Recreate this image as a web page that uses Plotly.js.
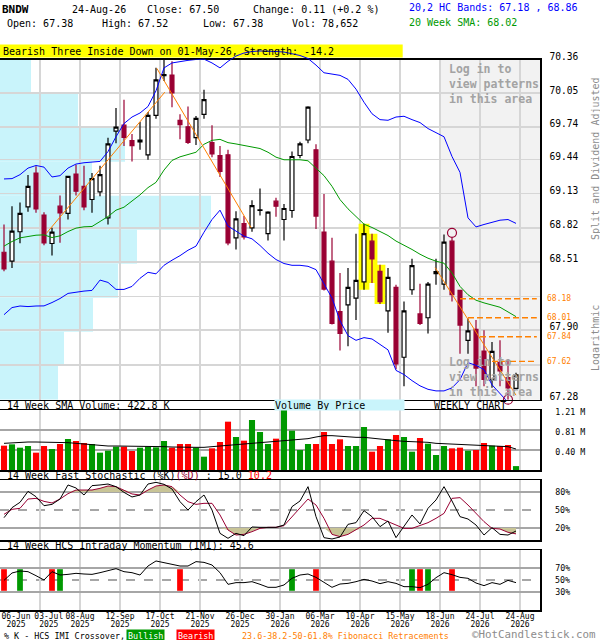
<!DOCTYPE html>
<html><head><meta charset="utf-8">
<script src="https://cdn.plot.ly/plotly-3.0.1.min.js"></script>
<style>html,body{margin:0;padding:0;background:#fff;}#chart{width:600px;height:640px;}</style>
</head><body><div id="chart"></div>
<script>
// ---------- data (weekly, index 0 = 06-Jun-2025 ... 64 = 24-Aug-2026) ----------
const openP = [68.599,68.518,68.784,69.01,69.318,68.935,68.678,69.016,68.95,69.309,69.197,69.077,69.146,68.91,69.702,69.756,69.614,69.602,69.484,69.847,70.212,70.218,69.801,69.741,69.641,69.856,69.596,69.478,69.484,68.729,68.859,68.82,68.977,68.768,69.062,68.895,68.977,69.478,69.62,69.53,68.781,68.518,68.065,68.125,68.186,68.331,68.699,68.427,68.071,68.282,67.657,68.261,68.044,68.01,68.406,68.312,68.699,68.255,67.808,67.905,67.712,67.455,67.612,67.476,67.38];
const highP = [68.85,69.016,69.05,69.30,69.379,68.962,68.82,69.113,69.29,69.394,69.385,69.318,69.385,69.641,69.913,69.989,69.675,69.786,69.877,70.285,70.36,70.345,69.856,69.928,69.84,70.082,69.756,69.566,69.53,68.971,68.926,69.071,69.176,68.971,69.092,69.037,69.514,69.605,69.931,69.581,69.128,68.729,68.412,68.457,68.766,68.856,68.766,68.487,68.457,68.306,68.155,68.541,68.315,68.33,68.541,68.759,68.729,68.26,68.004,67.989,67.899,67.793,67.808,67.642,67.52];
const lowP = [68.427,68.457,68.68,68.965,68.956,68.663,68.569,68.684,68.895,69.113,68.98,68.956,69.107,68.85,69.59,69.566,69.424,69.53,69.439,69.816,70.164,69.922,69.626,69.584,69.575,69.816,69.463,69.282,68.663,68.624,68.714,68.784,68.932,68.705,68.92,68.705,68.91,69.454,69.59,68.81,68.255,67.95,67.718,67.754,67.989,68.261,68.321,68.134,67.875,67.551,67.40,68.216,67.944,67.869,68.306,68.261,68.155,67.688,67.688,67.40,67.40,67.385,67.40,67.28,67.38];
const closeP = [68.448,68.79,68.95,69.197,68.992,68.684,68.78,68.956,69.288,69.152,69.01,69.267,69.303,69.584,69.738,69.644,69.569,69.62,69.847,70.173,70.221,70.052,69.762,69.599,69.819,69.992,69.493,69.333,68.684,68.901,68.738,69.022,68.983,68.962,69.016,68.995,69.469,69.584,69.922,68.926,68.267,67.959,67.869,68.282,68.346,68.768,68.539,68.155,68.373,67.597,68.071,68.478,67.959,68.312,68.424,68.69,68.216,67.944,67.893,67.561,67.461,67.709,67.536,67.385,67.50];
const upperBand = [69.264,69.267,69.303,69.363,69.387,69.372,69.282,69.294,69.363,69.4,69.412,69.415,69.424,69.514,69.65,69.771,69.831,69.868,69.928,70.073,70.284,70.33,70.345,70.354,70.362,70.365,70.33,70.284,70.345,70.394,70.422,70.436,70.441,70.441,70.436,70.431,70.417,70.399,70.371,70.31,70.239,70.224,70.215,70.178,70.088,69.967,69.861,69.807,69.801,69.831,69.838,69.807,69.78,69.725,69.686,69.65,69.469,69.324,68.91,68.828,68.85,68.871,68.889,68.895,68.86];
const lowerBand = [68.037,68.101,68.115,68.11,68.115,68.116,68.146,68.182,68.228,68.241,68.249,68.255,68.348,68.327,68.264,68.264,68.291,68.364,68.418,68.404,68.481,68.527,68.568,68.617,68.654,68.78,68.895,68.98,68.835,68.79,68.744,68.72,68.66,68.59,68.533,68.497,68.481,68.481,68.472,68.442,68.315,68.186,67.983,67.85,67.808,67.832,67.82,67.772,67.723,67.54,67.503,67.449,67.403,67.372,67.358,67.358,67.385,67.458,67.609,67.585,67.548,67.412,67.331,67.258,67.18];
const sma20 = [68.654,68.696,68.729,68.744,68.753,68.756,68.732,68.747,68.786,68.817,68.829,68.832,68.88,68.922,68.98,69.007,69.063,69.119,69.185,69.233,69.345,69.433,69.466,69.49,69.508,69.581,69.617,69.626,69.596,69.584,69.572,69.56,69.542,69.508,69.463,69.439,69.439,69.439,69.43,69.363,69.294,69.197,69.076,68.992,68.919,68.853,68.823,68.784,68.75,68.7,68.663,68.624,68.581,68.545,68.518,68.5,68.412,68.291,68.216,68.167,68.143,68.125,68.104,68.062,68.02];
const volume = [490700,517600,450400,484000,349500,484000,423500,524300,625100,584800,544500,524300,349500,389900,470500,470500,383200,450400,470500,457100,584800,450400,524300,524300,450400,268900,436900,564600,974700,665500,591500,1008300,766300,524300,631900,1210000,793200,403300,524300,524300,766300,524300,618400,484000,484000,867100,369700,484000,618400,705800,665500,369700,645300,531000,302500,484000,436900,450400,389900,403300,544500,490700,484000,504200,78652];
const volSma = [537800,551200,564600,564600,564600,564600,557900,551200,551200,537800,524300,510900,490700,484000,484000,484000,477300,470500,470500,470500,470500,463800,457100,457100,457100,457100,470500,484000,510900,517600,524300,551200,564600,578100,584800,591500,605000,618400,631900,665500,692400,692400,678900,665500,658800,658800,638600,618400,605000,591500,578100,571400,571400,557900,537800,531000,524300,517600,510900,497400,490700,490700,484000,470500,422800];
const stochK = [37.2,53.9,62.8,81.1,72.2,57.2,59.4,68.3,91.7,86.7,75,90.6,91.7,93.3,88.9,79.4,71.7,75,93.3,96.1,92.8,85,63.9,50,63.9,75,50,11.1,2.8,11.1,7.2,21.7,21.1,21.1,21.1,25,55.6,65,88.9,38.9,3.9,1.7,5,26.1,28.9,48.9,38.9,22.2,31.7,3.9,22.2,41.7,26.7,52.8,66.7,88.9,65,38.9,35,25,8.3,20.6,9.4,8.3,15.0];
const stochD = [42.8,51.1,52.8,68.3,69.4,64.4,61.7,68.3,77.2,83.3,83.3,83.3,86.1,90,88.9,83.3,76.7,75,83.3,90,91.7,88.9,75,63.9,59.4,61.1,61.1,41.7,16.7,8.3,9.4,13.9,19.4,21.1,21.1,23.9,38.9,52.8,68.3,58.3,36.1,9.4,5.6,9.4,16.7,25,36.1,36.1,30.6,25,19.4,19.4,23.9,28.9,36.1,44.4,69.4,70.6,58.3,44.4,30.6,19.4,18.3,12.8,10.2];
const imi = [49.4,61.7,65,63.9,57.2,50,63.9,58.3,59.4,61.1,60,59.4,62.2,66.1,68.9,63.9,62.2,58.3,73.3,81.7,79.4,76.1,73.3,73.3,80.6,79.4,75,62.2,42.8,45.6,45.6,47.2,42.8,37.8,37.8,41.7,52.8,58.3,60,54.4,46.1,37.8,43.3,44.4,47.2,51.1,48.3,43.9,47.2,44.4,38.9,38.9,37.2,42.8,53.9,62.2,58.9,54.4,52.8,45,40.6,45.6,42.8,49.4,45.6];
const imiBullish = [2,7,36,51,53];
const imiBearish = [0,6,22,39,52,56];
const vbpVolume = [58,64,93,118,137,211,92,125,78,31]; // price bands, lowest first
const priceTicks = [67.28,67.59,67.90,68.20,68.51,68.82,69.13,69.44,69.74,70.05,70.36];
const priceTickText = ['67.28','','67.90','','68.51','68.82','69.13','69.44','69.74','70.05','70.36'];
const fibLevels = [68.18,68.01,67.84,67.62];
const fibStartWeek = [57,58,59.5,61];
const patternWeeks = [45,46,47];
const patternTopWeek = 56, patternBottomWeek = 63;
const trendStartWeek = [5.3,19.1,53.9], trendStartPrice = [68.77,70.28,68.46];
const trendEndWeek = [20.1,30.9,64], trendEndPrice = [70.06,68.82,67.32];
const labelWeeks = [0,4,9,14,19,24,29,34,39,44,49,54,59,64];
const labelDates = ['06-Jun','03-Jul','08-Aug','12-Sep','17-Oct','21-Nov','26-Dec','30-Jan','06-Mar','10-Apr','15-May','18-Jun','24-Jul','24-Aug'];
const labelYears = ['2025','2025','2025','2025','2025','2025','2025','2026','2026','2026','2026','2026','2026','2026'];

// ---------- build ----------
const MONO = 'DejaVu Sans Mono';
const GRID = '#d6d6d6', DARKGRID = '#a6a6a6', CRIM = '#990033', ORANGE = '#ff8000';
const weeks = closeP.map((_, i) => i);
const gridWeeks = weeks.filter(i => i % 5 === 4).map(i => i + 0.5);
const XR = [-0.5, 67];
const py = y => 1 - y / 640, px = x => x / 600;
const L10 = Math.log10;
const topExt = 70.36 * Math.exp(0.04476 / 340 * 15.7);
const labelPos = labelWeeks.map((w, k) => k === 0 ? w + 1.5 : (k === 1 ? w + 1.6 : w + 0.5));

const traces = [];
traces.push({type:'scatter', mode:'markers', x:[0], y:[0], marker:{opacity:0}, xaxis:'x', yaxis:'y', hoverinfo:'skip'});
// pattern highlight
traces.push({type:'bar', x:patternWeeks, base:patternWeeks.map(i => lowP[i]), y:patternWeeks.map(i => highP[i] - lowP[i]),
  width:1.35, marker:{color:'#ffff00', line:{width:0}}, xaxis:'x2', yaxis:'y2', hoverinfo:'skip'});
traces.push({type:'candlestick', x:weeks, open:openP, high:highP, low:lowP, close:closeP, xaxis:'x2', yaxis:'y2',
  increasing:{line:{color:'#000', width:1.2}, fillcolor:'#ffffff'},
  decreasing:{line:{color:CRIM, width:1.2}, fillcolor:CRIM}, whiskerwidth:0, hoverinfo:'none'});
const line = (y, color, w, ax, ay, extra) => Object.assign({type:'scatter', mode:'lines', x:weeks, y:y,
  line:{color:color, width:w}, xaxis:ax, yaxis:ay, hoverinfo:'skip'}, extra || {});
traces.push(line(sma20, '#009900', 1, 'x2', 'y2'));
traces.push(line(upperBand, '#0000ff', 1, 'x2', 'y2'));
traces.push(line(lowerBand, '#0000ff', 1, 'x2', 'y2'));
trendStartWeek.forEach((w, k) => traces.push({type:'scatter', mode:'lines', x:[w, trendEndWeek[k]], y:[trendStartPrice[k], trendEndPrice[k]],
  line:{color:ORANGE, width:1}, xaxis:'x2', yaxis:'y2', hoverinfo:'skip'}));
fibLevels.forEach((lv, k) => traces.push({type:'scatter', mode:'lines', x:[fibStartWeek[k], 66.6], y:[lv, lv],
  line:{color:ORANGE, width:1.3, dash:'6px,3px'}, xaxis:'x2', yaxis:'y2', hoverinfo:'skip'}));
traces.push({type:'scatter', mode:'markers', x:[patternTopWeek, patternBottomWeek],
  y:[highP[patternTopWeek] * 1.00066, lowP[patternBottomWeek]], cliponaxis:false,
  marker:{symbol:'circle-open', size:9, color:CRIM, line:{width:1.2, color:CRIM}}, xaxis:'x2', yaxis:'y2', hoverinfo:'skip'});
// band part above the panel top
traces.push(line(upperBand, '#0000ff', 1, 'x3', 'y3'));
// volume
traces.push({type:'bar', x:weeks, y:volume, width:0.76, xaxis:'x4', yaxis:'y4', hoverinfo:'skip',
  marker:{color:weeks.map(i => closeP[i] >= openP[i] ? '#009900' : '#ff0000'), line:{width:0}}});
traces.push(line(volSma, '#000', 1, 'x4', 'y4'));
// stochastic
traces.push(line(weeks.map(() => 80), 'rgba(0,0,0,0)', 0, 'x5', 'y5'));
traces.push(line(stochD.map(v => Math.max(v, 80)), 'rgba(0,0,0,0)', 0, 'x5', 'y5', {fill:'tonexty', fillcolor:'rgb(200,196,150)'}));
traces.push(line(weeks.map(() => 20), 'rgba(0,0,0,0)', 0, 'x5', 'y5'));
traces.push(line(stochD.map(v => Math.min(v, 20)), 'rgba(0,0,0,0)', 0, 'x5', 'y5', {fill:'tonexty', fillcolor:'rgb(200,196,150)'}));
traces.push(line(stochD, CRIM, 1, 'x5', 'y5'));
traces.push(line(stochK, '#000', 1, 'x5', 'y5'));
// IMI
traces.push({type:'bar', x:imiBullish, base:imiBullish.map(() => 32), y:imiBullish.map(() => 36), width:0.72,
  marker:{color:'#009900', line:{width:0}}, xaxis:'x6', yaxis:'y6', hoverinfo:'skip'});
traces.push({type:'bar', x:imiBearish, base:imiBearish.map(() => 32), y:imiBearish.map(() => 36), width:0.72,
  marker:{color:'#ff0000', line:{width:0}}, xaxis:'x6', yaxis:'y6', hoverinfo:'skip'});
traces.push(line(imi, '#000', 1, 'x6', 'y6'));
traces.push({type:'scatter', mode:'markers', x:[0], y:[50], marker:{opacity:0}, xaxis:'x7', yaxis:'y6', hoverinfo:'skip'});
traces.push({type:'scatter', mode:'markers', x:[0], y:[50], marker:{opacity:0}, xaxis:'x8', yaxis:'y6', hoverinfo:'skip'});

const panelX = (anchor) => ({domain:[0, 0.9], range:XR, tickvals:gridWeeks, showticklabels:false, ticks:'',
  showgrid:true, gridcolor:GRID, gridwidth:1.5, zeroline:false, showline:true, mirror:true, linecolor:'#000', linewidth:1.5,
  anchor:anchor, fixedrange:true});
const smallFont = {family:MONO, size:8.3, color:'#000'};
const labelAxis = (text, yPix) => ({overlaying:'x6', anchor:'free', position:py(yPix), range:XR, side:'bottom', showgrid:false, zeroline:false,
  showline:false, ticks:'', tickangle:0, tickvals:labelPos, ticktext:text, tickfont:{family:MONO, size:8, color:'#000'},
  fixedrange:true});

const layout = {
  width:600, height:640, margin:{l:0, r:0, t:0, b:0}, showlegend:false, barmode:'overlay',
  paper_bgcolor:'#fff', plot_bgcolor:'#fff', hovermode:false,
  xaxis:{domain:[0, 0.9], range:[0, 540], visible:false, anchor:'y', fixedrange:true},
  yaxis:{domain:[py(399.7), py(59.7)], range:[0, 10], visible:false, anchor:'x', fixedrange:true},
  xaxis2:Object.assign(panelX('y2'), {overlaying:'x', rangeslider:{visible:false}}),
  yaxis2:{overlaying:'y', anchor:'x2', type:'log', range:[L10(67.28), L10(70.36)], side:'right',
    tickvals:priceTicks, ticktext:priceTickText, ticks:'', showgrid:true, gridcolor:GRID, gridwidth:1.5, zeroline:false,
    showline:true, mirror:true, linecolor:'#000', linewidth:1.5, tickfont:{family:MONO, size:9.6, color:'#000'},
    ticklabelstandoff:6, ticklabelshift:-3, fixedrange:true},
  xaxis3:{domain:[0, 0.9], range:XR, visible:false, anchor:'y3', fixedrange:true},
  yaxis3:{domain:[py(59.7), py(44)], type:'log', range:[L10(70.36), L10(topExt)], visible:false, anchor:'x3', fixedrange:true},
  xaxis4:panelX('y4'),
  yaxis4:{domain:[py(470), py(410)], anchor:'x4', range:[0, 1210000], side:'right', tickvals:[403333, 806667, 1210000],
    ticktext:['0.40 M', '0.81 M', '1.21 M'], ticks:'', showgrid:true, gridcolor:DARKGRID, gridwidth:1.5, zeroline:false,
    showline:true, mirror:true, linecolor:'#000', linewidth:1.5, tickfont:smallFont, ticklabelstandoff:12, ticklabelshift:2, fixedrange:true},
  xaxis5:panelX('y5'),
  yaxis5:{domain:[py(540), py(480)], anchor:'x5', range:[0, 100], side:'right', tickvals:[20, 80], ticktext:['20%', '80%'],
    ticks:'', showgrid:true, gridcolor:DARKGRID, gridwidth:1.5, zeroline:false, showline:true, mirror:true, linecolor:'#000', linewidth:1.5,
    minor:{tickvals:[50], showgrid:true, gridcolor:DARKGRID, gridwidth:1.2, griddash:'dash', ticks:''},
    tickfont:smallFont, ticklabelstandoff:12, fixedrange:true},
  xaxis6:panelX('y6'),
  yaxis6:{domain:[py(610), py(550)], anchor:'x6', range:[0, 100], side:'right', tickvals:[30, 70], ticktext:['30%', '70%'],
    ticks:'', showgrid:true, gridcolor:DARKGRID, gridwidth:1.5, zeroline:false, showline:true, mirror:true, linecolor:'#000', linewidth:1.5,
    minor:{tickvals:[50], showgrid:true, gridcolor:DARKGRID, gridwidth:1.2, griddash:'dash', ticks:''},
    tickfont:smallFont, ticklabelstandoff:12, fixedrange:true},
  xaxis7:labelAxis(labelDates, 609.5),
  xaxis8:labelAxis(labelYears, 617.8),
  shapes:[
    {type:'rect', xref:'paper', yref:'paper', x0:0, x1:px(402.7), y0:py(57.5), y1:py(44.5), fillcolor:'#ffff00', line:{width:0}, layer:'below'},
    {type:'rect', xref:'paper', yref:'paper', x0:px(440), x1:px(540), y0:py(399.7), y1:py(59.7), fillcolor:'#f2f2f2', line:{width:0}, layer:'below'},
    {type:'line', xref:'paper', yref:'paper', x0:px(440), x1:px(440), y0:py(399.7), y1:py(59.7), line:{color:'#9a9a9a', width:1.5}, layer:'below'}
  ],
  annotations:[]
};
// volume-by-price bands drawn under the grid, through the base axes
vbpVolume.forEach((v, k) => layout.shapes.push({type:'rect', xref:'x', yref:'y', x0:0, x1:v, y0:k, y1:k + 1,
  fillcolor:'#c9f4fb', line:{width:0}, layer:'below'}));

const A = layout.annotations;
const txt = (text, x, y, o) => A.push(Object.assign({text:text, x:px(x), y:py(y), xref:'paper', yref:'paper',
  xanchor:'left', yanchor:'middle', showarrow:false, font:{family:MONO, size:10, color:'#000'}}, o || {}));
txt('<b>BNDW</b>', 0, 9.3, {font:{family:MONO, size:11, color:'#000'}});
txt('24-Aug-26', 70, 9.3);
txt('Close: 67.50', 145, 9.3);
txt('Change: 0.11 (+0.2 %)', 251, 9.3);
txt('Open: 67.38', 4.6, 24);
txt('High: 67.52', 100, 24);
txt('Low: 67.38', 200.8, 24);
txt('Vol: 78,652', 290, 24);
txt('20,2 HC Bands: 67.18 , 68.86', 406.5, 7.5, {font:{family:MONO, size:10, color:'#0000ff'}});
txt('20 Week SMA: 68.02', 406.5, 22.3, {font:{family:MONO, size:10, color:'#009900'}});
txt('Bearish Three Inside Down on 01-May-26, Strength: -14.2', 1, 51.3);
txt('Log in to<br>view patterns<br>in this area', 446.5, 60.5, {yanchor:'top', align:'left', font:{family:MONO, size:11.5, color:'#a3a3a3', weight:'bold'}});
txt('Log in to<br>view patterns<br>in this area', 446.5, 352.5, {yanchor:'top', align:'left', font:{family:MONO, size:11.5, color:'#a3a3a3', weight:'bold'}});
txt('Split and Dividend Adjusted', 595, 159, {xanchor:'center', textangle:-90, font:{family:MONO, size:10, color:'#8c8c8c'}});
txt('Logarithmic', 595, 338, {xanchor:'center', textangle:-90, font:{family:MONO, size:10, color:'#8c8c8c'}});
fibLevels.forEach(lv => A.push({text:lv.toFixed(2), x:px(545), xref:'paper', y:L10(lv), yref:'y2', xanchor:'left', yanchor:'middle',
  showarrow:false, font:{family:MONO, size:8, color:ORANGE}}));
txt('14 Week SMA Volume: 422.8 K', 4.6, 405.3);
txt('Volume By Price', 274, 405.2, {bgcolor:'#c9f4fb', width:129, align:'left', height:10, borderpad:0});
txt('WEEKLY CHART', 431.5, 405.3);
txt('14 Week Fast Stochastic (%K)<span style="color:#990033">(%D)</span> : 15.0 <span style="color:#ff0000">10.2</span>', 4.6, 475.3);
txt('50%', 553, 510, {font:smallFont});
txt('14 Week HCS Intraday Momentum (IMI): 45.6', 4.6, 545.3);
txt('50%', 553, 580, {font:smallFont});
txt('% K - HCS IMI Crossover,', 2, 635.5, {font:{family:MONO, size:8.4, color:'#000'}});
txt('Bullish', 145.5, 635.5, {xanchor:'center', bgcolor:'#009900', borderpad:1, font:{family:MONO, size:8.4, color:'#fff'}});
txt('Bearish', 195.5, 635.5, {xanchor:'center', bgcolor:'#ff0000', borderpad:1, font:{family:MONO, size:8.4, color:'#fff'}});
txt('23.6-38.2-50-61.8% Fibonacci Retracements', 240, 635.5, {font:{family:MONO, size:8.4, color:ORANGE}});
txt('©HotCandlestick.com', 598, 634.5, {xanchor:'right', font:{family:MONO, size:10.8, color:'#8c8c8c'}});

Plotly.newPlot('chart', traces, layout, {staticPlot:true, displayModeBar:false});
</script></body></html>
